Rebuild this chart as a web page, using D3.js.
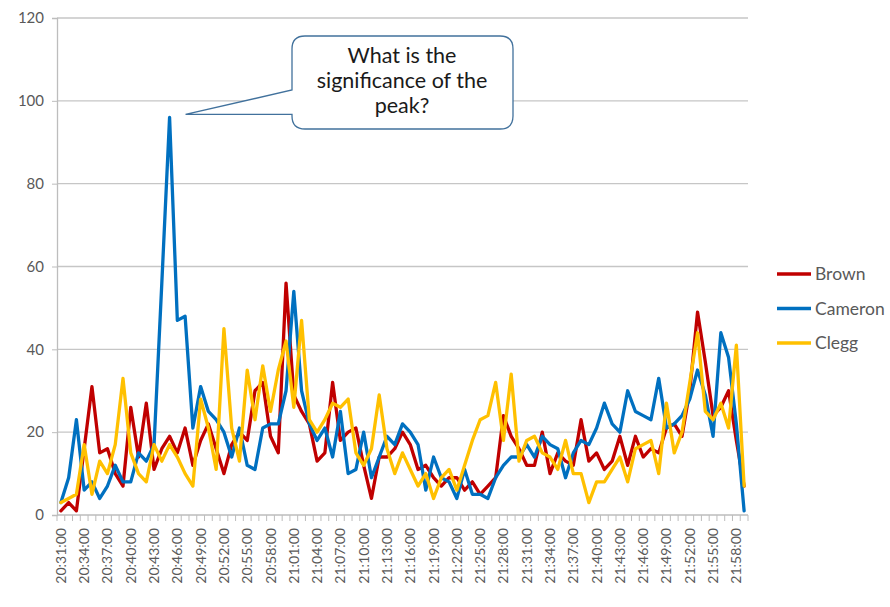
<!DOCTYPE html>
<html>
<head>
<meta charset="utf-8">
<script src="https://cdn.jsdelivr.net/npm/d3@7"></script>
<style>
  body { margin: 0; background: #fff; }
  text { font-family: Lato, "Open Sans", sans-serif; }
</style>
</head>
<body>
<script>
//Width and height
var w = 890;
var h = 607;

//Minutes of the debate
var categories = [
  "20:31:00", "20:32:00", "20:33:00", "20:34:00", "20:35:00", "20:36:00", "20:37:00", "20:38:00", "20:39:00", "20:40:00",
  "20:41:00", "20:42:00", "20:43:00", "20:44:00", "20:45:00", "20:46:00", "20:47:00", "20:48:00", "20:49:00", "20:50:00",
  "20:51:00", "20:52:00", "20:53:00", "20:54:00", "20:55:00", "20:56:00", "20:57:00", "20:58:00", "20:59:00", "21:00:00",
  "21:01:00", "21:02:00", "21:03:00", "21:04:00", "21:05:00", "21:06:00", "21:07:00", "21:08:00", "21:09:00", "21:10:00",
  "21:11:00", "21:12:00", "21:13:00", "21:14:00", "21:15:00", "21:16:00", "21:17:00", "21:18:00", "21:19:00", "21:20:00",
  "21:21:00", "21:22:00", "21:23:00", "21:24:00", "21:25:00", "21:26:00", "21:27:00", "21:28:00", "21:29:00", "21:30:00",
  "21:31:00", "21:32:00", "21:33:00", "21:34:00", "21:35:00", "21:36:00", "21:37:00", "21:38:00", "21:39:00", "21:40:00",
  "21:41:00", "21:42:00", "21:43:00", "21:44:00", "21:45:00", "21:46:00", "21:47:00", "21:48:00", "21:49:00", "21:50:00",
  "21:51:00", "21:52:00", "21:53:00", "21:54:00", "21:55:00", "21:56:00", "21:57:00", "21:58:00", "21:59:00"
];

var brown = [
  1, 3, 1, 16, 31, 15, 16, 10, 7, 26,
  14, 27, 11, 16, 19, 15, 21, 12, 18, 22,
  16, 10, 17, 20, 18, 30, 32, 19, 15, 56,
  29, 25, 22, 13, 15, 32, 18, 20, 21, 12,
  4, 14, 14, 16, 20, 17, 11, 12, 9, 7,
  9, 9, 6, 8, 5, 7, 9, 24, 19, 16,
  12, 12, 20, 10, 15, 13, 12, 23, 13, 15,
  11, 13, 19, 12, 19, 14, 16, 15, 21, 22,
  19, 30, 49, 37, 24, 26, 30, 18, 7
];

var cameron = [
  3, 9, 23, 6, 8, 4, 7, 12, 8, 8,
  15, 13, 17, 56, 96, 47, 48, 21, 31, 25,
  23, 20, 14, 21, 12, 11, 21, 22, 22, 30,
  54, 30, 22, 18, 21, 14, 25, 10, 11, 20,
  9, 14, 19, 17, 22, 20, 17, 6, 14, 9,
  8, 4, 11, 5, 5, 4, 9, 12, 14, 14,
  17, 14, 19, 17, 16, 9, 15, 18, 17, 21,
  27, 22, 20, 30, 25, 24, 23, 33, 21, 22,
  24, 28, 35, 29, 19, 44, 38, 22, 1
];

var clegg = [
  3, 4, 5, 17, 5, 13, 10, 17, 33, 15,
  10, 8, 17, 13, 17, 14, 10, 7, 28, 21,
  11, 45, 21, 13, 35, 23, 36, 25, 35, 42,
  26, 47, 23, 20, 23, 27, 26, 28, 15, 12,
  16, 29, 16, 10, 15, 11, 7, 10, 4, 9,
  11, 6, 12, 18, 23, 24, 32, 18, 34, 13,
  18, 19, 15, 14, 11, 18, 10, 10, 3, 8,
  8, 11, 14, 8, 16, 17, 18, 10, 27, 15,
  20, 32, 44, 25, 23, 27, 21, 41, 7
];

var seriesNames = ["Brown", "Cameron", "Clegg"];
var seriesColors = ["#c00000", "#0070c0", "#ffc000"];
var yTicks = [0, 20, 40, 60, 80, 100, 120];

var series = [brown, cameron, clegg];

var xScale = d3
  .scaleBand()
  .domain(categories)
  .range([57, 748]);

var yScale = d3
  .scaleLinear()
  .domain([0, 120])
  .range([515, 18]);

//Create SVG element
var svg = d3.select("body").append("svg").attr("width", w).attr("height", h);

//Gridlines
svg
  .selectAll("line.grid")
  .data(yTicks.slice(1))
  .enter()
  .append("line")
  .attr("class", "grid")
  .attr("x1", 57)
  .attr("x2", 748)
  .attr("y1", function (d) {
    return yScale(d);
  })
  .attr("y2", function (d) {
    return yScale(d);
  })
  .attr("stroke", "#c6c6c6")
  .attr("stroke-width", 1.3);

//Y axis
var yAxis = d3.axisLeft(yScale).tickValues(yTicks).tickSize(5).tickPadding(8);
var gy = svg.append("g").attr("transform", "translate(57,0)").call(yAxis);
gy.select(".domain").attr("stroke", "#bdbdbd").attr("stroke-width", 1.3);
gy.selectAll(".tick line").attr("stroke", "#bdbdbd");
gy.selectAll(".tick text")
  .attr("font-family", "Lato, sans-serif")
  .attr("font-size", "15px")
  .attr("fill", "#595959");

//X axis, tick marks between categories
svg
  .append("line")
  .attr("x1", 57)
  .attr("x2", 748)
  .attr("y1", 515)
  .attr("y2", 515)
  .attr("stroke", "#bdbdbd")
  .attr("stroke-width", 1.3);

svg
  .selectAll("line.xtick")
  .data(categories.concat(["end"]))
  .enter()
  .append("line")
  .attr("class", "xtick")
  .attr("x1", function (d, i) {
    return 57 + i * xScale.bandwidth();
  })
  .attr("x2", function (d, i) {
    return 57 + i * xScale.bandwidth();
  })
  .attr("y1", 515)
  .attr("y2", 521)
  .attr("stroke", "#bdbdbd")
  .attr("stroke-width", 1);

//X labels, every third minute
svg
  .selectAll("text.xlabel")
  .data(
    categories.filter(function (d, i) {
      return i % 3 === 0;
    })
  )
  .enter()
  .append("text")
  .attr("class", "xlabel")
  .text(function (d) {
    return d;
  })
  .attr("text-anchor", "end")
  .attr("transform", function (d) {
    var x = xScale(d) + xScale.bandwidth() / 2 + 5;
    return "translate(" + x + ",528) rotate(-90)";
  })
  .attr("font-size", "14px")
  .attr("fill", "#595959");

//Create lines
var line = d3
  .line()
  .x(function (d, i) {
    return xScale(categories[i]) + xScale.bandwidth() / 2;
  })
  .y(function (d) {
    return yScale(d);
  });

svg
  .selectAll("path.series")
  .data(series)
  .enter()
  .append("path")
  .attr("class", "series")
  .attr("d", line)
  .attr("fill", "none")
  .attr("stroke", function (d, i) {
    return seriesColors[i];
  })
  .attr("stroke-width", 3.3)
  .attr("stroke-linejoin", "round")
  .attr("stroke-linecap", "round");

//Legend
var legend = svg
  .selectAll("g.legend")
  .data(seriesNames)
  .enter()
  .append("g")
  .attr("class", "legend")
  .attr("transform", function (d, i) {
    return "translate(777," + (274 + i * 34.5) + ")";
  });

legend
  .append("line")
  .attr("x1", 0)
  .attr("x2", 34)
  .attr("stroke", function (d, i) {
    return seriesColors[i];
  })
  .attr("stroke-width", 3.3);

legend
  .append("text")
  .text(function (d) {
    return d;
  })
  .attr("x", 38)
  .attr("dy", "0.35em")
  .attr("font-size", "17.5px")
  .attr("fill", "#595959");

//Callout pointing at the peak
var peakIndex = cameron.indexOf(d3.max(cameron));
var tipX = xScale(categories[peakIndex]) + xScale.bandwidth() / 2 + 16;
var tipY = yScale(cameron[peakIndex]) - 3;
var bx0 = 292, by0 = 36, bx1 = 513, by1 = 129, r = 13;

svg
  .append("path")
  .attr(
    "d",
    "M" + (bx0 + r) + "," + by0 +
      " H" + (bx1 - r) +
      " Q" + bx1 + "," + by0 + " " + bx1 + "," + (by0 + r) +
      " V" + (by1 - r) +
      " Q" + bx1 + "," + by1 + " " + (bx1 - r) + "," + by1 +
      " H" + (bx0 + r) +
      " Q" + bx0 + "," + by1 + " " + bx0 + "," + (by1 - r) +
      " V" + tipY +
      " L" + tipX + "," + tipY +
      " L" + bx0 + "," + 90 +
      " V" + (by0 + r) +
      " Q" + bx0 + "," + by0 + " " + (bx0 + r) + "," + by0 + " Z"
  )
  .attr("fill", "#fff")
  .attr("stroke", "#41719c")
  .attr("stroke-width", 1.3);

svg
  .selectAll("text.callout")
  .data(["What is the", "significance of the", "peak?"])
  .enter()
  .append("text")
  .attr("class", "callout")
  .text(function (d) {
    return d;
  })
  .attr("x", 402)
  .attr("y", function (d, i) {
    return 63 + i * 25;
  })
  .attr("text-anchor", "middle")
  .attr("font-size", "21.5px")
  .attr("fill", "#1a1a1a");
</script>
</body>
</html>
